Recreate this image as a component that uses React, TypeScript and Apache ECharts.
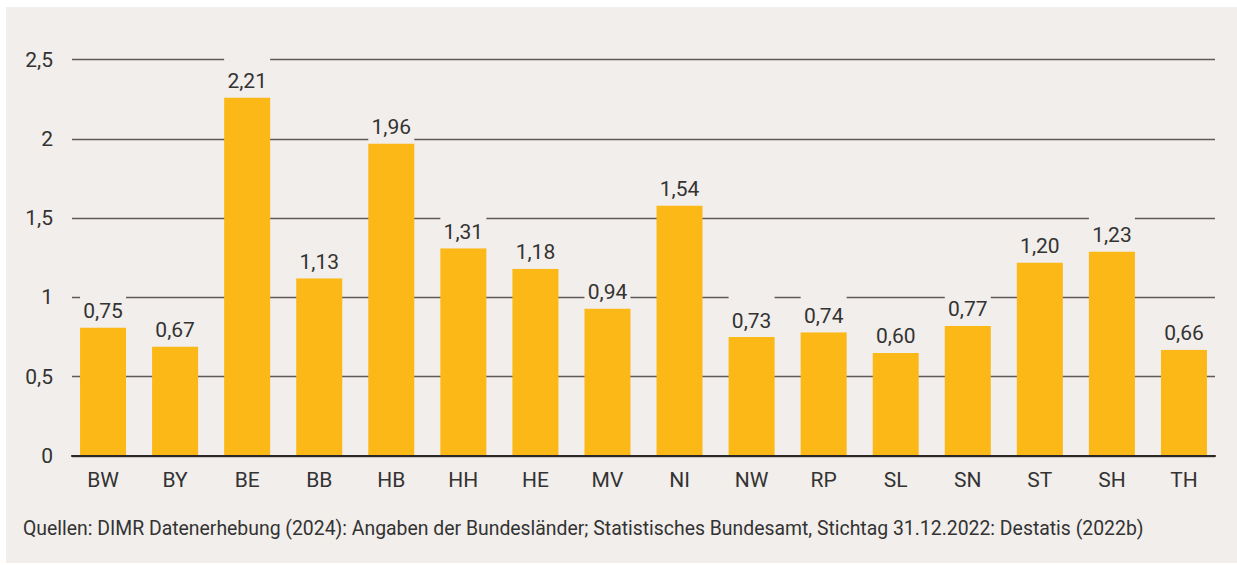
import React, { useEffect, useRef } from "react";
import * as echarts from "echarts";

const categories = ["BW", "BY", "BE", "BB", "HB", "HH", "HE", "MV", "NI", "NW", "RP", "SL", "SN", "ST", "SH", "TH"];
const barHeights = [0.81, 0.69, 2.26, 1.12, 1.97, 1.31, 1.18, 0.93, 1.58, 0.75, 0.78, 0.65, 0.82, 1.22, 1.29, 0.67];
const valueLabels = ["0,75", "0,67", "2,21", "1,13", "1,96", "1,31", "1,18", "0,94", "1,54", "0,73", "0,74", "0,60", "0,77", "1,20", "1,23", "0,66"];
const yMin = 0;
const yMax = 2.5;
const yStep = 0.5;
const sourceNote =
  "Quellen: DIMR Datenerhebung (2024): Angaben der Bundesländer; Statistisches Bundesamt, Stichtag 31.12.2022: Destatis (2022b)";

const PANEL = "#f2eeeb";
const BAR = "#fbb817";
const TEXT = "#333333";
const FONT = "Roboto";

export default function App() {
  const ref = useRef<HTMLDivElement>(null);
  useEffect(() => {
    if (!ref.current) return;
    const chart = echarts.init(ref.current, undefined, { renderer: "svg" });
    chart.setOption({
      animation: false,
      backgroundColor: PANEL,
      textStyle: { fontFamily: FONT },
      grid: [
        { left: 61, right: 17, top: 52.5, bottom: 107, containLabel: false },
        { left: 66, right: 22, top: 52.5, bottom: 107, containLabel: false },
      ],
      xAxis: [
        {
          type: "category",
          gridIndex: 0,
          data: categories,
          axisLine: { show: false },
          axisTick: { show: false },
          axisLabel: { color: TEXT, fontSize: 21, fontFamily: FONT, margin: 13 },
        },
        {
          type: "value",
          gridIndex: 1,
          min: 0,
          max: 1,
          z: 5,
          axisLine: { show: true, onZero: false, lineStyle: { color: "#2b2827", width: 2.2 } },
          axisTick: { show: false },
          axisLabel: { show: false },
          splitLine: { show: false },
        },
      ],
      yAxis: [
        {
          type: "value",
          gridIndex: 0,
          min: yMin,
          max: yMax,
          interval: yStep,
          show: false,
          splitLine: { show: false },
        },
        {
          type: "value",
          gridIndex: 1,
          min: yMin,
          max: yMax,
          interval: yStep,
          axisLine: { show: false },
          axisTick: { show: false },
          axisLabel: {
            color: TEXT,
            fontSize: 21,
            fontFamily: FONT,
            margin: 19,
            padding: [0, 0, 6, 0],
            formatter: (v: number) => String(v).replace(".", ","),
          },
          splitLine: { show: true, lineStyle: { color: "#5f5a57", width: 1.4 } },
        },
      ],
      series: [
        {
          type: "bar",
          xAxisIndex: 0,
          yAxisIndex: 0,
          barWidth: 46,
          z: 3,
          itemStyle: { color: BAR },
          data: barHeights,
          label: {
            show: true,
            position: "top",
            distance: 0,
            color: TEXT,
            fontSize: 21,
            fontFamily: FONT,
            lineHeight: 21,
            width: 46,
            align: "center",
            backgroundColor: PANEL,
            padding: [14, 0, 6, 0],
            formatter: (p: any) => valueLabels[p.dataIndex],
          },
        },
        {
          type: "line",
          xAxisIndex: 1,
          yAxisIndex: 1,
          data: [],
          silent: true,
        },
      ],
      graphic: [
        {
          type: "text",
          left: 17,
          top: 512,
          style: { text: sourceNote, fontSize: 19.4, fontFamily: FONT, fill: TEXT },
        },
      ],
    });
    return () => chart.dispose();
  }, []);
  return (
    <div style={{ position: "fixed", left: 0, top: 0, width: 1237, height: 565, background: "#ffffff" }}>
      <div ref={ref} style={{ position: "absolute", left: 6, top: 7, width: 1231, height: 556 }} />
    </div>
  );
}
